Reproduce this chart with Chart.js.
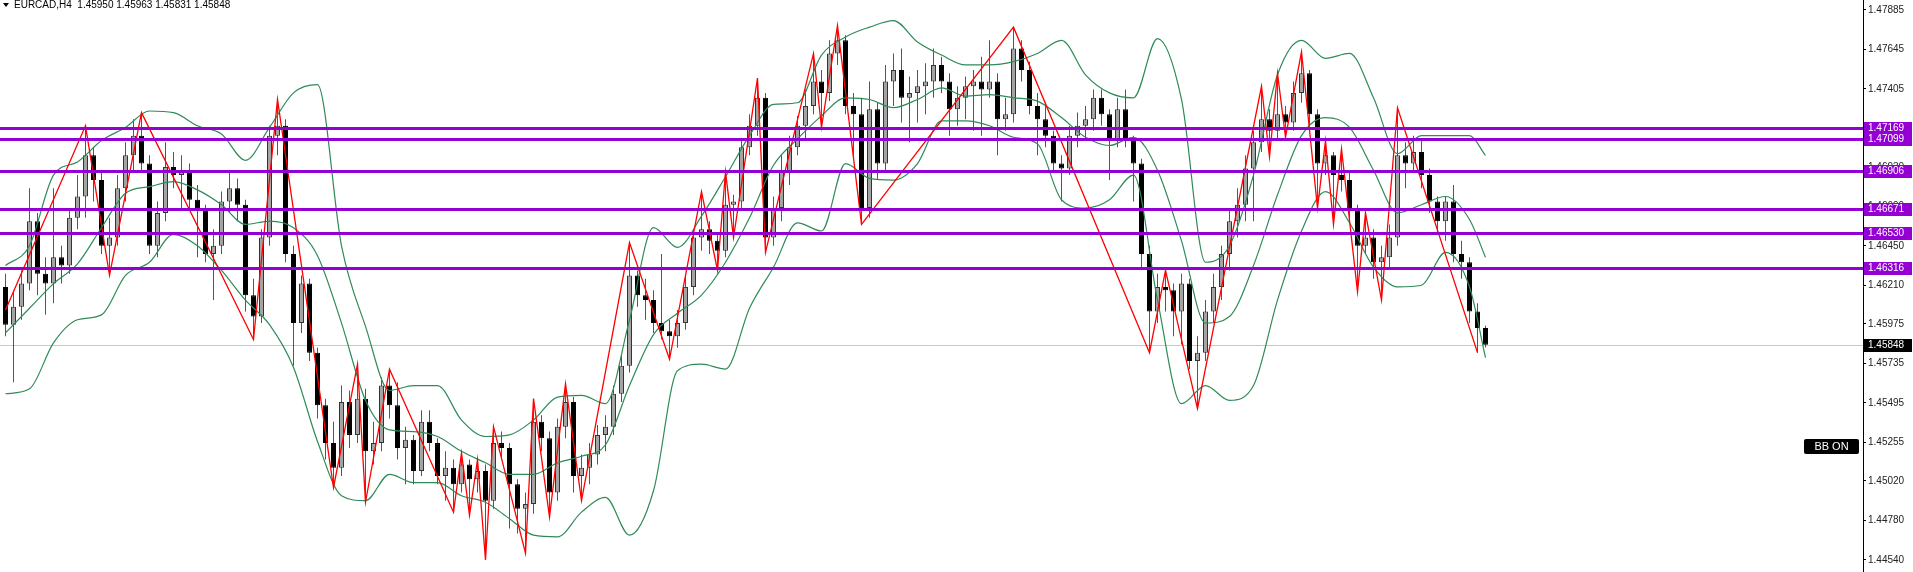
<!DOCTYPE html>
<html>
<head>
<meta charset="utf-8">
<title>EURCAD,H4</title>
<script src="https://cdn.jsdelivr.net/npm/chart.js"></script>
<style>
  html, body { margin: 0; padding: 0; background: #fff; overflow: hidden; }
  #wrap { position: relative; width: 1913px; height: 572px; }
</style>
</head>
<body>
<div id="wrap"><canvas id="chart" width="1913" height="572"></canvas></div>
<script>
// header info
const symbol = 'EURCAD,H4';
const lastBar = [1.45950, 1.45963, 1.45831, 1.45848]; // O H L C of the current bar

// H4 candles, oldest first
const opens = [
  1.4620,1.4597,1.4608,1.4622,1.4660,1.4628,1.4622,1.4638,1.4633,1.4662,
  1.4675,1.4700,1.4685,1.4645,1.4650,1.4680,1.4700,1.4712,1.4695,1.4645,
  1.4665,1.4693,1.4688,1.4690,1.4673,1.4667,1.4640,1.4645,1.4672,1.4680,
  1.4670,1.4615,1.4602,1.4650,1.4712,1.4718,1.4640,1.4598,1.4622,1.4580,
  1.4548,1.4525,1.4510,1.4550,1.4530,1.4552,1.4520,1.4525,1.4560,1.4548,
  1.4522,1.4527,1.4508,1.4538,1.4525,1.4505,1.4510,1.4500,1.4512,1.4503,
  1.4508,1.4490,1.4525,1.4522,1.4500,1.4485,1.4488,1.4538,1.4528,1.4495,
  1.4535,1.4550,1.4505,1.4510,1.4518,1.4530,1.4535,1.4555,1.4572,1.4627,
  1.4615,1.4612,1.4598,1.4593,1.4590,1.4598,1.4620,1.4650,1.4655,1.4648,
  1.4642,1.4670,1.4672,1.4705,1.4718,1.4735,1.4650,1.4668,1.4690,1.4705,
  1.4718,1.4730,1.4745,1.4738,1.4762,1.4770,1.4730,1.4725,1.4668,1.4728,
  1.4695,1.4745,1.4752,1.4735,1.4738,1.4742,1.4745,1.4755,1.4745,1.4728,
  1.4735,1.4742,1.4745,1.4740,1.4745,1.4722,1.4725,1.4765,1.4752,1.4730,
  1.4722,1.4712,1.4695,1.4692,1.4712,1.4718,1.4722,1.4735,1.4725,1.4710,
  1.4728,1.4710,1.4695,1.4640,1.4605,1.4620,1.4618,1.4605,1.4622,1.4575,
  1.4580,1.4605,1.4620,1.4640,1.4660,1.4670,1.4692,1.4708,1.4722,1.4715,
  1.4725,1.4720,1.4738,1.4750,1.4725,1.4695,1.4700,1.4688,1.4685,1.4668,
  1.4645,1.4650,1.4635,1.4638,1.4650,1.4700,1.4695,1.4702,1.4688,1.4672,
  1.4660,1.4672,1.4640,1.4635,1.4605,1.4595
];
const highs = [
  1.4628,1.4618,1.4630,1.4680,1.4665,1.4638,1.4680,1.4645,1.4668,1.4688,
  1.4718,1.4705,1.4690,1.4662,1.4688,1.4708,1.4722,1.4726,1.4700,1.4672,
  1.4708,1.4702,1.4700,1.4695,1.4682,1.4670,1.4655,1.4678,1.4690,1.4686,
  1.4673,1.4625,1.4655,1.4718,1.4734,1.4722,1.4645,1.4627,1.4625,1.4583,
  1.4552,1.4538,1.4560,1.4557,1.4573,1.4558,1.4538,1.4565,1.4570,1.4562,
  1.4535,1.4530,1.4545,1.4545,1.4528,1.4520,1.4515,1.4519,1.4515,1.4515,
  1.4512,1.4535,1.4532,1.4525,1.4503,1.4495,1.4552,1.4542,1.4532,1.4540,
  1.4561,1.4553,1.4518,1.4525,1.4536,1.4542,1.4560,1.4578,1.4647,1.4630,
  1.4625,1.4618,1.4640,1.4600,1.4606,1.4626,1.4655,1.4678,1.4660,1.4652,
  1.4690,1.4676,1.4710,1.4725,1.4747,1.4738,1.4675,1.4700,1.4712,1.4724,
  1.4740,1.4762,1.4752,1.4770,1.4779,1.4773,1.4738,1.4735,1.4745,1.4732,
  1.4755,1.4762,1.4765,1.4748,1.4752,1.4756,1.4765,1.4760,1.4750,1.4742,
  1.4748,1.4752,1.4760,1.4770,1.4750,1.4735,1.4778,1.4770,1.4757,1.4738,
  1.4732,1.4715,1.4700,1.4718,1.4726,1.4730,1.4740,1.4740,1.4728,1.4735,
  1.4740,1.4712,1.4698,1.4645,1.4628,1.4630,1.4622,1.4628,1.4625,1.4590,
  1.4612,1.4628,1.4645,1.4668,1.4680,1.4700,1.4715,1.4742,1.4728,1.4750,
  1.4730,1.4745,1.4763,1.4752,1.4728,1.4709,1.4702,1.4704,1.4690,1.4670,
  1.4665,1.4655,1.4645,1.4658,1.4729,1.4708,1.4712,1.4710,1.4692,1.4675,
  1.4675,1.4682,1.4648,1.4638,1.4610,1.45963
];
const lows = [
  1.4590,1.4562,1.4600,1.4618,1.4615,1.4603,1.4610,1.4622,1.4628,1.4655,
  1.4662,1.4672,1.4640,1.4627,1.4645,1.4672,1.4690,1.4690,1.4640,1.4638,
  1.4660,1.4680,1.4668,1.4668,1.4638,1.4635,1.4612,1.4640,1.4665,1.4660,
  1.4605,1.4588,1.4598,1.4645,1.4700,1.4635,1.4572,1.4592,1.4575,1.4540,
  1.4515,1.4498,1.4505,1.4522,1.4525,1.4489,1.4512,1.4520,1.4540,1.4515,
  1.4500,1.4500,1.4505,1.4520,1.4500,1.4490,1.4483,1.4495,1.4481,1.4495,
  1.4454,1.4485,1.4515,1.4473,1.4470,1.4458,1.4482,1.4520,1.4480,1.4490,
  1.4528,1.4495,1.4490,1.4500,1.4512,1.4520,1.4530,1.4550,1.4568,1.4608,
  1.4600,1.4592,1.4588,1.4576,1.4583,1.4594,1.4615,1.4642,1.4640,1.4630,
  1.4638,1.4650,1.4668,1.4700,1.4712,1.4641,1.4645,1.4660,1.4682,1.4700,
  1.4710,1.4725,1.4717,1.4733,1.4755,1.4725,1.4698,1.4658,1.4662,1.4685,
  1.4690,1.4730,1.4720,1.4708,1.4720,1.4725,1.4735,1.4738,1.4712,1.4718,
  1.4722,1.4715,1.4712,1.4735,1.4700,1.4715,1.4720,1.4745,1.4725,1.4700,
  1.4705,1.4690,1.4672,1.4688,1.4705,1.4710,1.4715,1.4718,1.4685,1.4705,
  1.4705,1.4672,1.4632,1.4580,1.4598,1.4605,1.4590,1.4585,1.4570,1.4546,
  1.4575,1.4598,1.4612,1.4630,1.4650,1.4660,1.4660,1.4702,1.4699,1.4710,
  1.4711,1.4715,1.4732,1.4718,1.4668,1.4688,1.4658,1.4678,1.4660,1.4617,
  1.4640,1.4625,1.4612,1.4632,1.4645,1.4680,1.4690,1.4680,1.4665,1.4652,
  1.4648,1.4635,1.4625,1.4598,1.4580,1.45831
];
const closes = [
  1.4597,1.4608,1.4622,1.4660,1.4628,1.4622,1.4638,1.4633,1.4662,1.4675,
  1.4700,1.4685,1.4645,1.4650,1.4680,1.4700,1.4712,1.4695,1.4645,1.4665,
  1.4693,1.4688,1.4690,1.4673,1.4667,1.4640,1.4645,1.4672,1.4680,1.4670,
  1.4615,1.4602,1.4650,1.4712,1.4718,1.4640,1.4598,1.4622,1.4580,1.4548,
  1.4525,1.4510,1.4550,1.4530,1.4552,1.4520,1.4525,1.4560,1.4548,1.4522,
  1.4527,1.4508,1.4538,1.4525,1.4505,1.4510,1.4500,1.4512,1.4503,1.4508,
  1.4490,1.4525,1.4522,1.4500,1.4485,1.4488,1.4538,1.4528,1.4495,1.4535,
  1.4550,1.4505,1.4510,1.4518,1.4530,1.4535,1.4555,1.4572,1.4627,1.4615,
  1.4612,1.4598,1.4593,1.4590,1.4598,1.4620,1.4650,1.4655,1.4648,1.4642,
  1.4670,1.4672,1.4705,1.4718,1.4735,1.4650,1.4668,1.4690,1.4705,1.4718,
  1.4730,1.4745,1.4738,1.4762,1.4770,1.4730,1.4725,1.4668,1.4728,1.4695,
  1.4745,1.4752,1.4735,1.4738,1.4742,1.4745,1.4755,1.4745,1.4728,1.4735,
  1.4742,1.4745,1.4740,1.4745,1.4722,1.4725,1.4765,1.4752,1.4730,1.4722,
  1.4712,1.4695,1.4692,1.4712,1.4718,1.4722,1.4735,1.4725,1.4710,1.4728,
  1.4710,1.4695,1.4640,1.4605,1.4620,1.4618,1.4605,1.4622,1.4575,1.4580,
  1.4605,1.4620,1.4640,1.4660,1.4670,1.4692,1.4708,1.4722,1.4715,1.4725,
  1.4720,1.4738,1.4750,1.4725,1.4695,1.4700,1.4688,1.4685,1.4668,1.4645,
  1.4650,1.4635,1.4638,1.4650,1.4700,1.4695,1.4702,1.4688,1.4672,1.4660,
  1.4672,1.4640,1.4635,1.4605,1.4595,1.45848
];

// Bollinger bands, read every 3rd bar (last value sits on the last bar)
const bbStep = 3;
const bbUpper = [
  1.4633,1.4645,1.4688,1.4696,1.4709,1.4717,1.4727,1.4726,1.4718,1.4713,
  1.4697,1.4717,1.4738,1.4743,1.4645,1.4596,1.4557,1.4560,1.4560,1.4539,
  1.4529,1.4530,1.4539,1.4553,1.4554,1.4549,1.4600,1.4656,1.4644,1.4663,
  1.4687,1.4712,1.4731,1.4732,1.4761,1.4772,1.4778,1.4782,1.4769,1.4761,
  1.4755,1.4755,1.4757,1.4762,1.4770,1.4749,1.4738,1.4735,1.4771,1.4734,
  1.4635,1.4645,1.4688,1.4749,1.4770,1.4759,1.4762,1.4735,1.4701,1.4712,
  1.4712,1.4712,1.4700
];
const bbMiddle = [
  1.4592,1.4607,1.4622,1.4634,1.4656,1.4677,1.4681,1.4684,1.4679,1.4670,
  1.4658,1.4660,1.4656,1.4639,1.4598,1.4551,1.4533,1.4532,1.4529,1.4520,
  1.4513,1.4506,1.4506,1.4513,1.4517,1.4524,1.4560,1.4591,1.4604,1.4615,
  1.4635,1.4662,1.4694,1.4710,1.4724,1.4735,1.4734,1.4729,1.4734,1.4741,
  1.4736,1.4737,1.4735,1.4733,1.4723,1.4711,1.4706,1.4711,1.4691,1.4648,
  1.4598,1.4602,1.4633,1.4676,1.4712,1.4723,1.4717,1.4691,1.4665,1.4670,
  1.4675,1.4661,1.4638
];
const bbLower = [
  1.4555,1.4558,1.4586,1.4600,1.4603,1.4627,1.4635,1.4652,1.4645,1.4630,
  1.4612,1.4597,1.4571,1.4526,1.4493,1.4490,1.4506,1.4501,1.4501,1.4493,
  1.4489,1.4479,1.4469,1.4468,1.4483,1.4492,1.4469,1.4496,1.4569,1.4573,
  1.4570,1.4607,1.4632,1.4659,1.4654,1.4695,1.4686,1.4685,1.4695,1.4721,
  1.4721,1.4718,1.4711,1.4707,1.4673,1.4668,1.4673,1.4688,1.4612,1.4549,
  1.4560,1.4551,1.4560,1.4612,1.4654,1.4678,1.4659,1.4632,1.4620,1.4621,
  1.4641,1.4620,1.4577
];

// ZigZag swing points: bar index and price
const zigIdx = [0,10,13,17,31,34,41,44,45,48,56,57,58,59,60,61,65,66,68,70,
  72,78,83,87,89,90,91,94,95,101,102,104,107,126,143,145,149,157,158,159,
  160,162,164,165,166,167,169,170,172,174,184];
const zigVal = [1.4606,1.4718,1.4627,1.4726,1.4588,1.4734,1.4498,1.4573,1.4489,1.4570,
  1.4483,1.4519,1.4481,1.4515,1.4454,1.4535,1.4458,1.4552,1.4480,1.4561,
  1.4490,1.4647,1.4576,1.4678,1.4630,1.4690,1.4650,1.4747,1.4641,1.4762,
  1.4717,1.4779,1.4658,1.4778,1.4580,1.4630,1.4546,1.4742,1.4699,1.4750,
  1.4711,1.4763,1.4668,1.4709,1.4658,1.4704,1.4617,1.4665,1.4612,1.4729,
  1.4580];

// horizontal levels, bid line and price scale
const levels = [1.47169, 1.47099, 1.46906, 1.46671, 1.46530, 1.46316];
const bidPrice = 1.45848;
const priceTicks = [1.47885, 1.47645, 1.47405, 1.47165, 1.46930, 1.46690, 1.46450,
  1.46210, 1.45975, 1.45735, 1.45495, 1.45255, 1.45020, 1.44780, 1.44540];
const priceMin = 1.44466, priceMax = 1.47945;

const FONT = "'Liberation Sans', Arial, sans-serif";
const n = closes.length;
const bull = closes.map((c, i) => c >= opens[i]);
const wickData = closes.map((_, i) => ({x: i, y: [lows[i], highs[i]]}));
const bodyData = closes.map((c, i) => ({x: i, y: [opens[i], c]}));
const bandPts = arr => arr.map((v, k) => ({x: Math.min(k * bbStep, n - 1), y: v}));
const zigPts = zigIdx.map((x, k) => ({x: x, y: zigVal[k]}));

function priceBox(ctx, y, text, fill) {
    ctx.fillStyle = fill;
    ctx.fillRect(1864, Math.round(y) - 6, 48, 13);
    ctx.fillStyle = '#fff';
    ctx.textBaseline = 'middle';
    ctx.textAlign = 'left';
    ctx.fillText(text, 1868, Math.round(y) + 0.5);
}

const overlay = {
    id: 'overlay',
    beforeDatasetsDraw(chart) {
        const {ctx, chartArea: a, scales: {y}} = chart;
        const py = Math.round(y.getPixelForValue(bidPrice)) + 0.5;
        ctx.save();
        ctx.strokeStyle = '#c8c8c8';
        ctx.lineWidth = 1;
        ctx.beginPath(); ctx.moveTo(a.left, py); ctx.lineTo(a.right, py); ctx.stroke();
        ctx.restore();
    },
    afterDatasetsDraw(chart) {
        const {ctx, chartArea: a, scales: {y}} = chart;
        ctx.save();
        ctx.strokeStyle = '#9400d3';
        ctx.lineWidth = 3;
        levels.forEach(v => {
            const py = Math.round(y.getPixelForValue(v)) + 0.5;
            ctx.beginPath(); ctx.moveTo(a.left, py); ctx.lineTo(a.right, py); ctx.stroke();
        });
        ctx.restore();
    },
    afterDraw(chart) {
        const {ctx, scales: {y}} = chart;
        ctx.save();
        ctx.font = '10px ' + FONT;
        levels.forEach(v => priceBox(ctx, y.getPixelForValue(v), v.toFixed(5), '#9400d3'));
        priceBox(ctx, y.getPixelForValue(bidPrice), bidPrice.toFixed(5), '#000');

        // header
        ctx.fillStyle = '#000';
        ctx.beginPath(); ctx.moveTo(3, 3); ctx.lineTo(9, 3); ctx.lineTo(6, 7); ctx.closePath(); ctx.fill();
        ctx.textBaseline = 'middle';
        ctx.fillText(symbol + '  ' + lastBar.map(v => v.toFixed(5)).join(' '), 14, 5.5);

        // BB ON button
        ctx.fillStyle = '#000';
        ctx.beginPath();
        ctx.roundRect(1804, 439, 55, 15, 2);
        ctx.fill();
        ctx.fillStyle = '#fff';
        ctx.font = '11px ' + FONT;
        ctx.textAlign = 'center';
        ctx.fillText('BB ON', 1831.5, 447);
        ctx.restore();
    }
};

new Chart(document.getElementById('chart'), {
    type: 'bar',
    data: {
        datasets: [
            {
                type: 'line', label: 'ZigZag', data: zigPts, order: 1,
                borderColor: '#ff0000', borderWidth: 1.3, pointRadius: 0, tension: 0, fill: false
            },
            {
                type: 'line', label: 'BB upper', data: bandPts(bbUpper), order: 2,
                borderColor: '#2e8b57', borderWidth: 1.2, pointRadius: 0,
                cubicInterpolationMode: 'monotone', fill: false
            },
            {
                type: 'line', label: 'BB middle', data: bandPts(bbMiddle), order: 2,
                borderColor: '#2e8b57', borderWidth: 1.2, pointRadius: 0,
                cubicInterpolationMode: 'monotone', fill: false
            },
            {
                type: 'line', label: 'BB lower', data: bandPts(bbLower), order: 2,
                borderColor: '#2e8b57', borderWidth: 1.2, pointRadius: 0,
                cubicInterpolationMode: 'monotone', fill: false
            },
            {
                type: 'bar', label: 'bodies', data: bodyData, order: 4,
                backgroundColor: bull.map(b => b ? '#a4a4a4' : '#000'),
                borderColor: bull.map(b => b ? '#333' : '#000'),
                borderWidth: 1, borderSkipped: false, barThickness: 5,
                grouped: false, inflateAmount: 0
            },
            {
                type: 'bar', label: 'wicks', data: wickData, order: 5,
                backgroundColor: '#555', borderWidth: 0, barThickness: 1,
                grouped: false, inflateAmount: 0
            }
        ]
    },
    options: {
        responsive: false,
        animation: false,
        devicePixelRatio: 1,
        events: [],
        layout: { padding: 0 },
        plugins: { legend: { display: false }, tooltip: { enabled: false } },
        scales: {
            x: {
                type: 'linear', display: false, offset: false,
                min: -0.6875, max: 232.1875
            },
            y: {
                position: 'right', min: priceMin, max: priceMax,
                afterBuildTicks: s => { s.ticks = priceTicks.map(v => ({value: v})); },
                afterFit: s => { s.width = 50; s.paddingTop = 0; s.paddingBottom = 0; },
                ticks: {
                    callback: v => Number(v).toFixed(5),
                    font: { family: FONT, size: 10 }, color: '#222',
                    padding: 2, autoSkip: false
                },
                grid: { drawOnChartArea: false, color: '#000', tickLength: 3 },
                border: { display: true, color: '#000' }
            }
        }
    },
    plugins: [overlay]
});
</script>
</body>
</html>
